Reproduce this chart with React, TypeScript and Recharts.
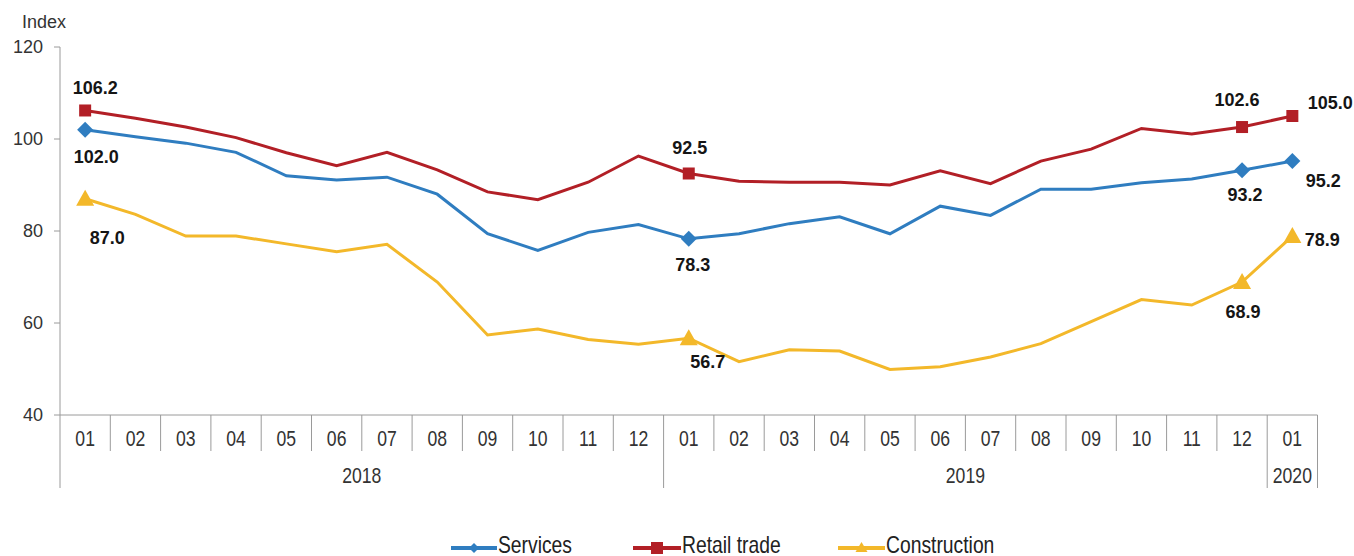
import React from 'react';
import { LineChart, Line, XAxis, YAxis } from 'recharts';

const months = ['01','02','03','04','05','06','07','08','09','10','11','12','01','02','03','04','05','06','07','08','09','10','11','12','01'];
const yearGroups = [
  { label: '2018', start: 0, count: 12 },
  { label: '2019', start: 12, count: 12 },
  { label: '2020', start: 24, count: 1 },
];
const services = [102.0,100.5,99.1,97.1,92.0,91.1,91.7,88.0,79.4,75.8,79.7,81.4,78.3,79.4,81.6,83.1,79.4,85.4,83.4,89.1,89.1,90.5,91.3,93.2,95.2];
const retail = [106.2,104.5,102.6,100.3,97.0,94.2,97.1,93.3,88.5,86.8,90.6,96.3,92.5,90.8,90.6,90.6,90.0,93.1,90.3,95.2,97.8,102.3,101.1,102.6,105.0];
const construction = [87.0,83.6,78.9,78.9,77.2,75.5,77.1,68.9,57.4,58.7,56.4,55.4,56.7,51.6,54.2,53.9,49.9,50.5,52.6,55.5,60.3,65.1,63.9,68.9,78.9];
const yTicks = [40, 60, 80, 100, 120];
const markedIdx = [0, 12, 23, 24];

const data = months.map((m, i) => ({
  key: i,
  month: m,
  services: services[i],
  retail: retail[i],
  construction: construction[i],
}));

const BLUE = '#2F7DC0';
const RED = '#B21F26';
const YELLOW = '#F3B82A';
const AXIS = '#9A9A9A';
const ARIAL = "'Liberation Sans', Arial, sans-serif";

const W = 1354;
const H = 556;
const LEFT = 60;
const RIGHT_M = 36.5;
const BW = (W - LEFT - RIGHT_M) / months.length;

// label offsets (dx, dy) relative to point, per marked index
const labelOffsets: Record<string, Record<number, [number, number]>> = {
  retail: { 0: [10, -16], 12: [1, -20], 23: [-5, -21], 24: [38, -7] },
  services: { 0: [11, 33], 12: [4, 32], 23: [3, 31], 24: [31, 26] },
  construction: { 0: [22, 45], 12: [19, 30], 23: [1, 36], 24: [30, 10] },
};

function marker(shape: string, cx: number, cy: number, color: string) {
  if (shape === 'square') {
    return <rect x={cx - 6} y={cy - 6} width={12} height={12} fill={color} />;
  }
  if (shape === 'diamond') {
    return <polygon points={`${cx},${cy - 8} ${cx + 8},${cy} ${cx},${cy + 8} ${cx - 8},${cy}`} fill={color} />;
  }
  return <polygon points={`${cx},${cy - 9} ${cx + 9},${cy + 7} ${cx - 9},${cy + 7}`} fill={color} />;
}

function makeDot(seriesKey: string, values: number[], shape: string, color: string) {
  return (props: any) => {
    const { cx, cy, index } = props;
    if (!markedIdx.includes(index) || cx == null || cy == null) {
      return <g key={`${seriesKey}-d-${index}`} />;
    }
    const [dx, dy] = labelOffsets[seriesKey][index];
    return (
      <g key={`${seriesKey}-d-${index}`}>
        {marker(shape, cx, cy, color)}
        <text
          x={cx + dx}
          y={cy + dy}
          textAnchor="middle"
          fontFamily={ARIAL}
          fontWeight="bold"
          fontSize={18}
          fill="#151515"
        >
          {values[index].toFixed(1)}
        </text>
      </g>
    );
  };
}

function NarrowText({ x, y, size, anchor, fill, sx = 0.8, children }: any) {
  return (
    <text
      transform={`translate(${x},${y}) scale(${sx},1)`}
      x={0}
      y={0}
      textAnchor={anchor}
      fontFamily={ARIAL}
      fontSize={size}
      fill={fill}
    >
      {children}
    </text>
  );
}

function MonthTick(props: any) {
  const { x, y, payload, index } = props;
  const i = payload && payload.index != null ? payload.index : index;
  const left = x - BW / 2;
  const group = yearGroups.find((g) => g.start === i);
  const isLast = i === months.length - 1;
  return (
    <g>
      <line x1={left} y1={y} x2={left} y2={group ? y + 73 : y + 36} stroke={AXIS} strokeWidth={1} />
      {isLast && <line x1={x + BW / 2} y1={y} x2={x + BW / 2} y2={y + 73} stroke={AXIS} strokeWidth={1} />}
      <NarrowText x={x} y={y + 31} size={22} anchor="middle" fill="#333">
        {months[i]}
      </NarrowText>
      {group && (
        <NarrowText x={x + ((group.count - 1) / 2) * BW} y={y + 68} size={22} anchor="middle" fill="#333">
          {group.label}
        </NarrowText>
      )}
    </g>
  );
}

const legendItems = [
  { label: 'Services', color: BLUE, shape: 'diamond', x1: 451, x2: 497 },
  { label: 'Retail trade', color: RED, shape: 'square', x1: 633, x2: 681 },
  { label: 'Construction', color: YELLOW, shape: 'triangle', x1: 838, x2: 885 },
];

function legendMarker(shape: string, cx: number, cy: number, color: string) {
  if (shape === 'square') return <rect x={cx - 6} y={cy - 6} width={12} height={12} fill={color} />;
  if (shape === 'diamond') return <polygon points={`${cx},${cy - 5} ${cx + 5},${cy} ${cx},${cy + 5} ${cx - 5},${cy}`} fill={color} />;
  return <polygon points={`${cx},${cy - 6} ${cx + 6},${cy + 4} ${cx - 6},${cy + 4}`} fill={color} />;
}

export default function App() {
  return (
    <div style={{ position: 'absolute', left: 0, top: 0, width: W, height: H, background: '#fff', overflow: 'hidden' }}>
      <LineChart width={W} height={H} data={data} margin={{ top: 47, right: RIGHT_M, bottom: 0, left: 0 }}>
        <XAxis
          dataKey="key"
          type="category"
          scale="band"
          interval={0}
          height={H - 415}
          tickLine={false}
          tickSize={0}
          tickMargin={0}
          stroke={AXIS}
          tick={<MonthTick />}
        />
        <YAxis
          domain={[40, 120]}
          ticks={yTicks}
          width={LEFT}
          stroke={AXIS}
          tickSize={6}
          tickMargin={11}
          tick={{ fontFamily: ARIAL, fontSize: 18, fill: '#333' }}
          interval={0}
        />
        <Line
          dataKey="services"
          stroke={BLUE}
          strokeWidth={3}
          isAnimationActive={false}
          dot={makeDot('services', services, 'diamond', BLUE)}
          activeDot={false}
        />
        <Line
          dataKey="retail"
          stroke={RED}
          strokeWidth={3}
          isAnimationActive={false}
          dot={makeDot('retail', retail, 'square', RED)}
          activeDot={false}
        />
        <Line
          dataKey="construction"
          stroke={YELLOW}
          strokeWidth={3}
          isAnimationActive={false}
          dot={makeDot('construction', construction, 'triangle', YELLOW)}
          activeDot={false}
        />
      </LineChart>
      <svg width={W} height={H} style={{ position: 'absolute', left: 0, top: 0, pointerEvents: 'none' }}>
        <text x={22} y={28} fontFamily={ARIAL} fontSize={18} fill="#333">Index</text>
        {legendItems.map((it) => (
          <g key={it.label}>
            <line x1={it.x1} y1={548} x2={it.x2} y2={548} stroke={it.color} strokeWidth={4} />
            {legendMarker(it.shape, (it.x1 + it.x2) / 2, 548, it.color)}
            <NarrowText x={it.x2 + 1} y={553} size={23} sx={0.84} anchor="start" fill="#222">{it.label}</NarrowText>
          </g>
        ))}
      </svg>
    </div>
  );
}
